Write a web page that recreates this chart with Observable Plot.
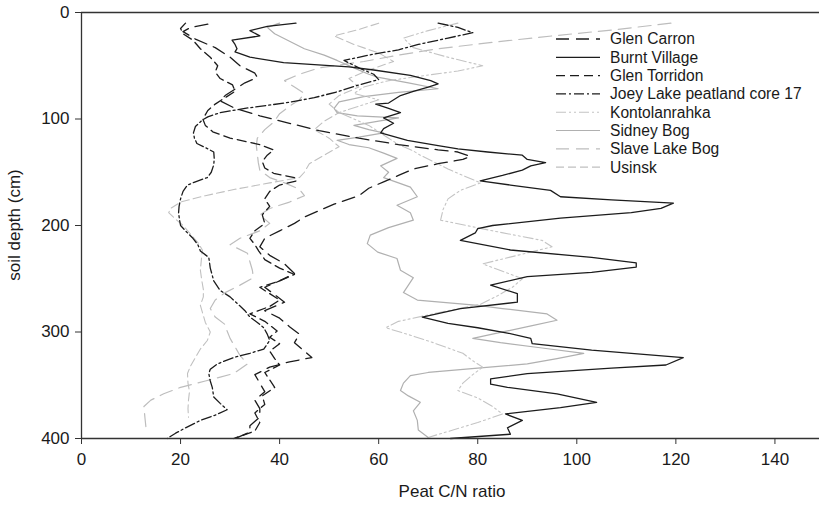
<!DOCTYPE html>
<html>
<head>
<meta charset="utf-8">
<script src="https://cdn.jsdelivr.net/npm/d3@7"></script>
<script src="https://cdn.jsdelivr.net/npm/@observablehq/plot@0.6"></script>
<style>
  html, body { margin: 0; padding: 0; background: #fff; }
  #chart { width: 819px; height: 505px; }
</style>
</head>
<body>
<div id="chart"></div>
<script>
// ---- data: [depth (cm), C/N ratio] ----
const glenCarron = [[11,25.5],[14,22],[18,20.5],[25,23],[33,27],[42,30],[50,32],[57,35],[61,35.5],[66,33],[72,31],[78,29],[83,28],[90,31],[97,36],[104,42],[111,48],[118,56],[124,64],[129,72],[131,76],[135,78.5],[138,77],[142,72],[147,67],[153,64],[159,61],[165,58],[172,56],[180,51],[186,48],[192,45],[198,43],[205,40],[212,37],[220,36],[228,38],[236,41],[245,43],[252,40],[258,37],[265,39],[272,41],[280,37],[287,40],[295,42],[302,44],[310,43],[318,45],[324,46.5],[328,42],[333,38],[340,35],[348,36],[356,37],[364,35],[372,36],[380,36],[388,34],[394,34],[400,31]];
const burntVillage = [[10,43.3],[13,37.5],[17,34],[22,36],[26,30.4],[30,31],[34,31.4],[37,31],[42,34],[47,40.8],[51,54],[54,59],[59,66.4],[64,70.5],[67,72],[70,70],[74,67],[78,64.4],[85,62],[86,59.4],[90,62],[94,64.4],[99,61],[104,63],[109,61],[113,60.4],[120,65.8],[125,72],[128,76],[131,82],[134,89],[138,90],[141,93.7],[144,90.7],[148,89],[153,85],[158,80.5],[162,86.6],[167,94.7],[173,96.7],[176,107],[179,119.5],[184,117],[188,111],[193,96.7],[200,83],[203,80],[207,79.5],[214,76.5],[223,86.6],[230,103],[235,112],[239,112],[244,103],[248,90],[256,82.6],[264,88],[272,88],[278,76.5],[286,68.8],[292,74],[296,80],[301,86],[306,90.7],[311,91],[317,103],[324,121.5],[331,118],[334,107],[339,90],[344,82.6],[349,82.6],[352,86],[358,96],[366,104],[371,96.7],[377,85.6],[383,89],[390,86],[396,86.6],[400,74.5]];
const glenTorridon = [[10,21],[15,20],[20,20.5],[26,22.5],[34,24],[42,26],[50,27.5],[56,27],[62,28],[68,30.5],[74,31],[80,29],[86,27],[92,25.5],[100,24.5],[106,25],[112,26.5],[118,30],[124,36],[129,38.8],[134,37.5],[140,36.5],[146,37],[151,38.8],[155,43],[158,43.5],[162,40],[168,38],[175,37],[182,38],[190,36.5],[198,37],[205,35],[212,34],[218,35],[224,35.8],[232,37],[240,40],[246,43],[252,40],[258,36],[264,38],[270,40],[276,38],[283,34],[290,37],[299,39.5],[305,38],[311,40],[318,38],[325,39],[331,40],[338,37],[345,38],[352,39],[360,36.5],[368,37],[376,35],[385,36],[393,35],[400,30.7]];
const joeyLake = [[10,72],[14,76],[19,79],[24,74],[30,68],[35,64],[40,58],[45,53],[52,56],[58,59],[63,60],[68,56],[74,52],[80,47],[85,41],[90,33],[94,28],[98,25.5],[101,24.4],[107,23],[113,22.6],[118,22.8],[123,23.3],[128,25.5],[131,26.7],[137,26.8],[143,26.7],[150,26.2],[155,25.4],[159,23],[162,21.4],[168,20.5],[175,20],[182,19.7],[188,19.6],[195,19.8],[200,20],[205,21],[212,22.5],[218,23.5],[224,24],[230,25.7],[240,26],[252,26.7],[261,28],[267,30],[273,31.4],[280,33],[286,34],[291,35.5],[296,36.8],[302,37.5],[308,38],[316,36.8],[320,34],[324,30.7],[330,27.4],[335,26],[339,25.7],[346,26],[352,26.4],[361,26.7],[367,28],[373,29.4],[378,27],[383,24],[390,21],[395,19],[400,17.3]];
const kontolanrahka = [[10,76],[17,70],[24,65],[33,67],[42,74],[50,81],[55,76],[60,68],[64,62],[70,57],[76,55],[82,60],[88,56],[94,52],[100,55],[106,58],[112,60],[118,62],[124,64],[130,67],[134,68.4],[140,71],[147,74],[153,77],[160,80.6],[167,76.5],[175,74],[185,73],[195,72.5],[205,83],[214,93],[220,95],[228,88],[236,81],[243,85],[250,89],[258,87],[266,84],[274,80.5],[282,72],[290,64],[296,61.4],[303,66.4],[310,71],[320,77],[327,79],[333,81],[340,79],[348,77],[355,76],[362,80],[370,83],[377,85],[385,80],[392,75],[399,70]];
const sidneyBog = [[10,40],[14,37.5],[20,39],[27,42],[34,45],[40,49],[45,51.6],[52,55],[58,58],[61,60],[66,66],[71.6,72],[75,64],[79,57],[84,52],[90,51],[94,51.6],[97,55.7],[99,64],[102,60],[106,55],[110,58],[113,61],[117,56],[120,51.6],[124,54],[127,58],[132,61],[137,63.7],[144,60.4],[150,62],[155,61],[160,64],[164,66.4],[173,67.8],[181,63.7],[188,66.4],[195,67],[202,62],[209,58.3],[217,57.7],[225,59.8],[231,63.7],[242,64.4],[249,67],[256,66],[263,65],[270,67.8],[275,80],[278,85],[283,94],[289,96],[294,91],[299,86],[306,79],[310,84.6],[315,93],[320,101.4],[325,96],[330,90],[334,80],[338,70],[341,66.4],[348,65],[355,64.4],[360,66],[366,68.4],[374,67],[383,67.8],[392,68],[399,70]];
const slaveLakeBog = [[10,119],[16,108],[22,95],[28,83],[34,72],[40,64],[46,57],[52,48],[58,44],[64,41],[70,43],[76,45],[82,44],[88,42],[95,40],[103,38.8],[110,37],[118,35.5],[125,35.3],[133,35.5],[141,35.7],[148,36],[155,38],[160,41],[166,44],[172,45],[178,42],[184,38],[190,36],[198,38],[205,36],[212,32],[218,30],[226,33.5],[234,34],[242,34.5],[249,34.7],[256,32],[263,29],[270,27],[278,26],[286,27],[293,29],[299,29.4],[306,30],[314,31],[322,32],[330,33.5],[339,30.7],[346,25],[352,20],[358,16.6],[364,14],[370,12.6],[380,12.8],[389,13]];
const usinsk = [[10,60],[16,56],[22,51],[30,55],[38,60],[46,63],[54,58],[62,54],[70,56],[78,52],[86,50],[94,52],[102,49],[110,47],[118,50],[126,52],[134,49],[142,46],[150,45],[155,44],[160,38],[166,31],[172,25],[178,20],[184,18],[188,17.6],[194,19],[200,20.5],[208,22],[216,23.5],[223,24.4],[232,24.2],[242,24],[252,24.3],[260,24.6],[267,24.6],[275,24],[283,24.5],[291,25],[300,26],[308,25.4],[316,24],[324,23],[332,22],[339,21.4],[348,21.5],[356,21.8],[364,21.6],[372,21.5],[380,21.6]];

const seriesNames = ["Glen Carron","Burnt Village","Glen Torridon","Joey Lake peatland core 17","Kontolanrahka","Sidney Bog","Slave Lake Bog","Usinsk"];
const seriesData = [glenCarron, burntVillage, glenTorridon, joeyLake, kontolanrahka, sidneyBog, slaveLakeBog, usinsk];
const xTicks = [0,20,40,60,80,100,120,140];
const yTicks = [0,100,200,300,400];

// ---- styles ----
const styles = [
  {stroke:"#1c1c1c", dash:"13,7", w:1.3},
  {stroke:"#1c1c1c", dash:null, w:1.3},
  {stroke:"#1c1c1c", dash:"9,5", w:1.3},
  {stroke:"#1c1c1c", dash:"10,3,2,3", w:1.3},
  {stroke:"#c4c4c4", dash:"10,3,2,3,2,3", w:1.1},
  {stroke:"#b0b0b0", dash:null, w:1.2},
  {stroke:"#bdbdbd", dash:"13,7", w:1.2},
  {stroke:"#c0c0c0", dash:"8,4", w:1.1}
];

const rows = [];
seriesData.forEach((arr, i) => arr.forEach(([d, v]) => rows.push({series: seriesNames[i], depth: d, cn: v})));

const font = "'Liberation Sans', Arial, Helvetica, sans-serif";

const lineMarks = seriesNames.map((name, i) =>
  Plot.line(rows.filter(r => r.series === name), {
    x: "cn", y: "depth", stroke: styles[i].stroke, strokeWidth: styles[i].w,
    strokeDasharray: styles[i].dash, strokeLinejoin: "round"
  })
);

const chart = Plot.plot({
  width: 819, height: 505,
  marginLeft: 81, marginRight: 0, marginTop: 12, marginBottom: 67,
  x: {domain: [0, 149]},
  y: {domain: [0, 400], reverse: true},
  style: {fontFamily: font, fontSize: "17px", color: "#1a1a1a", background: "#fff"},
  marks: [
    ...lineMarks.slice().reverse(),
    Plot.ruleY([0], {stroke: "#333", strokeWidth: 1.3}),
    Plot.ruleY([400], {stroke: "#333", strokeWidth: 1.3}),
    Plot.ruleX([0], {stroke: "#333", strokeWidth: 1.3}),
    Plot.axisX({ticks: xTicks, tickSize: 6, tickPadding: 8, label: null, fontSize: 17, stroke: "#333"}),
    Plot.axisY({ticks: yTicks, tickSize: 6, tickPadding: 6, label: null, fontSize: 17, stroke: "#333"})
  ]
});
document.getElementById("chart").appendChild(chart);

// axis titles and legend
const svg = d3.select(chart);
svg.append("text").attr("x", 452).attr("y", 497).attr("text-anchor", "middle")
  .attr("font-family", font).attr("font-size", 17).attr("fill", "#1a1a1a").text("Peat C/N ratio");
svg.append("text").attr("transform", "translate(20,225) rotate(-90)").attr("text-anchor", "middle")
  .attr("font-family", font).attr("font-size", 17).attr("fill", "#1a1a1a").text("soil depth (cm)");

const lg = svg.append("g");
seriesNames.forEach((name, i) => {
  const y = 39 + i * 18.3;
  lg.append("line").attr("x1", 556).attr("x2", 600).attr("y1", y).attr("y2", y)
    .attr("stroke", styles[i].stroke).attr("stroke-width", styles[i].w)
    .attr("stroke-dasharray", styles[i].dash);
  lg.append("text").attr("x", 610).attr("y", y).attr("dy", "0.35em")
    .attr("text-anchor", "start")
    .attr("font-family", font).attr("font-size", 15.6).attr("fill", "#1a1a1a").text(name);
});
</script>
</body>
</html>
